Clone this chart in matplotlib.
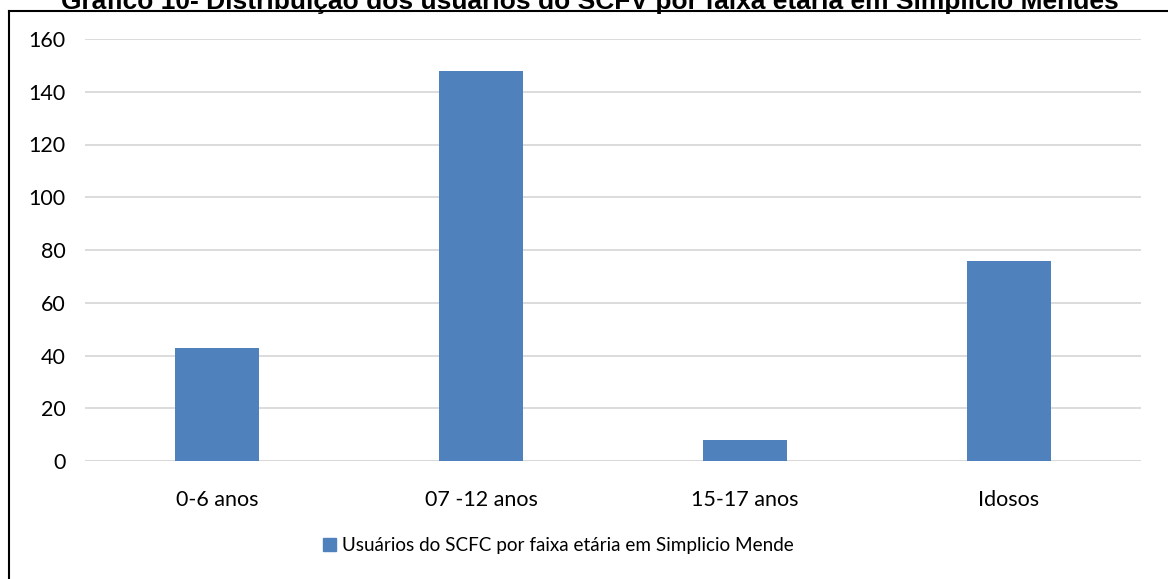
import matplotlib.pyplot as plt
from matplotlib.lines import Line2D
from matplotlib.patches import Patch

categorias = ["0-6 anos", "07 -12 anos", "15-17 anos", "Idosos"]
usuarios = [43, 148, 8, 76]
serie = "Usuários do SCFC por faixa etária em Simplicio Mende"
titulo = "Gráfico 10- Distribuição dos usuários do SCFV por faixa etária em Simplício Mendes"

W, H = 1168, 579
fig = plt.figure(figsize=(W / 100, H / 100), dpi=100)
ax = fig.add_axes([85 / W, 1 - 461 / H, (1141 - 85) / W, (461 - 39) / H])

cor = "#4F81BD"
fonte = "Lato"
x = range(len(categorias))
ax.bar(x, usuarios, width=0.315, color=cor, zorder=3)

ax.set_xlim(-0.5, len(categorias) - 0.5)
ax.set_ylim(0, 160)
ax.set_yticks(range(0, 161, 20))
ax.set_xticks(list(x))
ax.set_xticklabels(categorias)
ax.grid(axis="y", color="#D9D9D9", linewidth=1.3, zorder=0)
for s in ["top", "right", "left", "bottom"]:
    ax.spines[s].set_visible(False)
ax.axhline(0, color="#D9D9D9", linewidth=1.3, zorder=1)
ax.tick_params(length=0, labelsize=15.5, colors="#000000")
ax.tick_params(axis="x", pad=21)
ax.tick_params(axis="y", pad=14)
for lab in ax.get_xticklabels() + ax.get_yticklabels():
    lab.set_family(fonte)

# legenda
h = Patch(color=cor)
fig.legend([h], [serie], loc="center left", bbox_to_anchor=(323 / W, 1 - 546 / H),
           frameon=False, prop={"family": fonte, "size": 13.6},
           handlelength=0.69, handleheight=0.69, handletextpad=0.3,
           borderpad=0, borderaxespad=0)

# moldura externa (so as bordas esquerda e superior aparecem)
fx = 8.5 / W
fy = 1 - 11 / H
fig.add_artist(Line2D([fx, fx], [-0.01, fy], transform=fig.transFigure, color="black", lw=1.5))
fig.add_artist(Line2D([fx, 1.01], [fy, fy], transform=fig.transFigure, color="black", lw=1.5))

fig.text(590 / W, 1 - 9.5 / H, titulo, ha="center", va="baseline", fontsize=19,
         fontweight="bold", family="Liberation Sans")

fig.savefig("out.png", dpi=100)
